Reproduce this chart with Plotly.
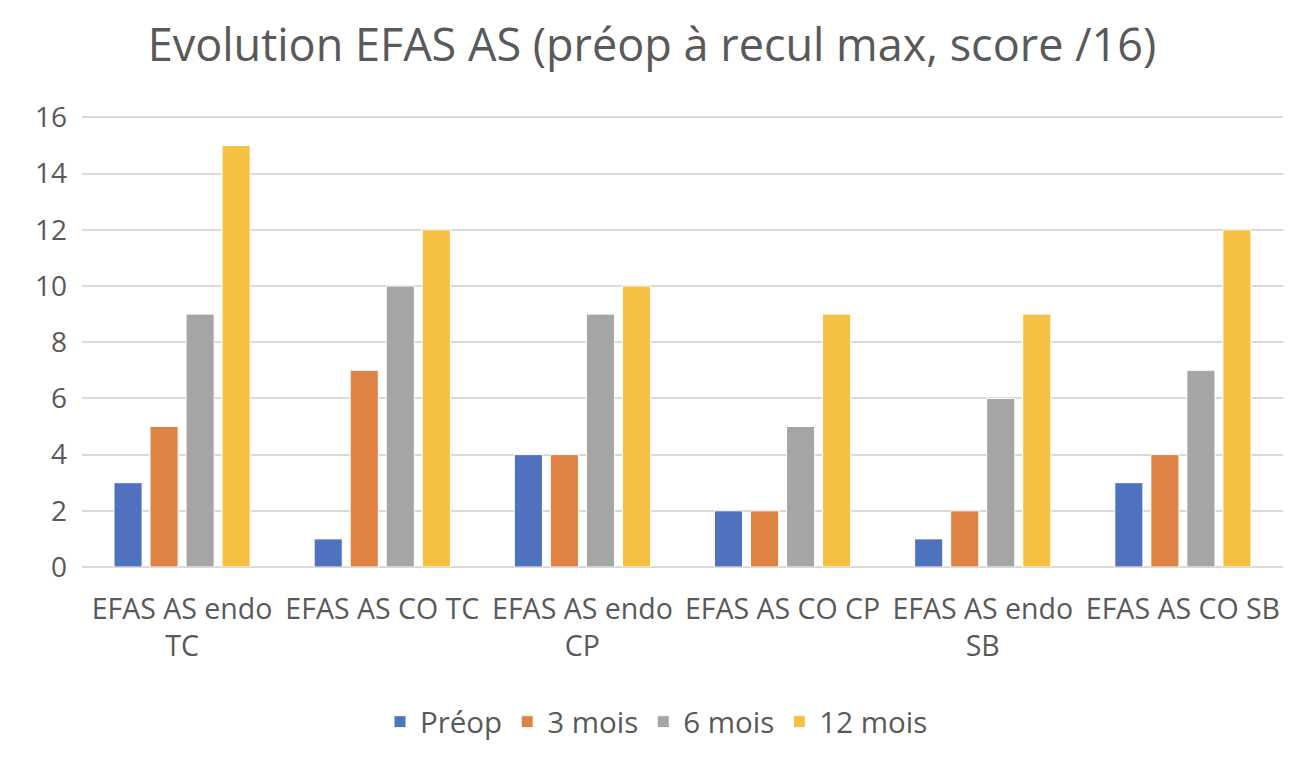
import plotly.graph_objects as go

categories = ["EFAS AS endo<br>TC", "EFAS AS CO TC", "EFAS AS endo<br>CP", "EFAS AS CO CP", "EFAS AS endo<br>SB", "EFAS AS CO SB"]
series_names = ["Préop", "3 mois", "6 mois", "12 mois"]
preop = [3, 1, 4, 2, 1, 3]
mois3 = [5, 7, 4, 2, 2, 4]
mois6 = [9, 10, 9, 5, 6, 7]
mois12 = [15, 12, 10, 9, 9, 12]
colors = ["#4F71BE", "#DE8344", "#A5A5A5", "#F6C143"]
y_ticks = [0, 2, 4, 6, 8, 10, 12, 14, 16]

FONT = "Open Sans"
TXT = "#595959"

fig = go.Figure()
for name, vals, c in zip(series_names, [preop, mois3, mois6, mois12], colors):
    fig.add_trace(go.Bar(x=categories, y=vals, name=name, marker=dict(color=c, line=dict(color="white", width=1))))

fig.update_layout(
    width=1304, height=760,
    margin=dict(l=82, r=21, t=116, b=193),
    paper_bgcolor="white", plot_bgcolor="white",
    barmode="group", bargap=0.28, bargroupgap=0.22,
    title=dict(text="Evolution EFAS AS (préop à recul max, score /16)", x=0.5, xanchor="center",
               y=1 - 45/760, yanchor="middle", font=dict(family=FONT, size=45, color=TXT)),
    font=dict(family=FONT, size=28, color=TXT),
    xaxis=dict(showgrid=False, tickfont=dict(size=28.5, color=TXT), ticklabelstandoff=22, showline=False, tickangle=0),
    yaxis=dict(range=[0, 16.05], tickvals=y_ticks, showgrid=True, gridcolor="#D9D9D9", gridwidth=1.5,
               zeroline=True, zerolinecolor="#D9D9D9", zerolinewidth=1.5,
               tickfont=dict(size=28, color=TXT), ticklabelstandoff=14),
    legend=dict(orientation="h", x=(383 - 82 - 3) / 1201, xanchor="left", y=-(722-567)/451, yanchor="middle",
                font=dict(size=29.5, color=TXT), itemwidth=30, traceorder="normal"),
)

fig.write_html("out.html")
